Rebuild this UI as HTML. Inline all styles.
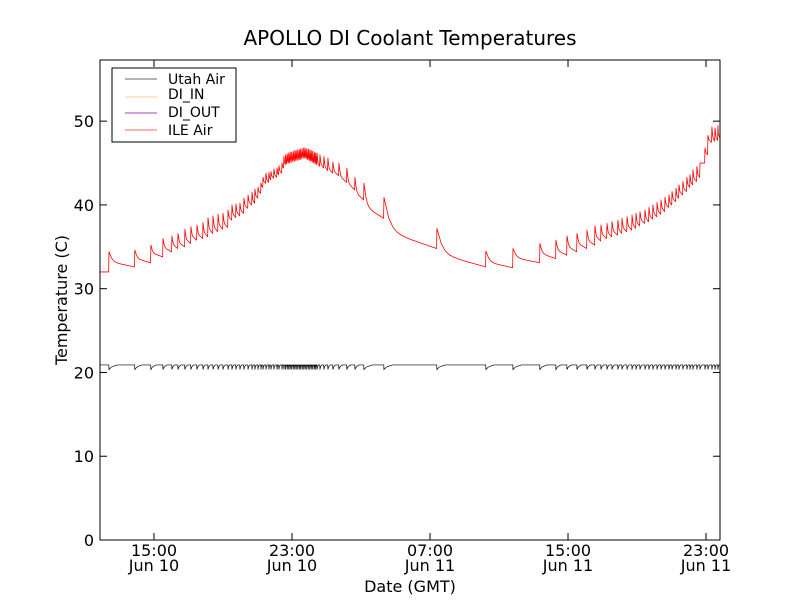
<!DOCTYPE html>
<html><head><meta charset="utf-8">
<style>
html,body{margin:0;padding:0;background:#fff;}
svg{display:block;font-family:"DejaVu Sans","Liberation Sans",sans-serif;}
</style></head>
<body>
<svg id="chart" width="800" height="600" viewBox="0 0 800 600">
<rect x="0" y="0" width="800" height="600" fill="#fff"/>
<text x="410" y="45" text-anchor="middle" font-size="20">APOLLO DI Coolant Temperatures</text>
<g id="plot"></g>
<g id="axes"></g>
<text x="410" y="592" text-anchor="middle" font-size="16">Date (GMT)</text>
<text x="0" y="0" transform="translate(67,300) rotate(-90)" text-anchor="middle" font-size="16">Temperature (C)</text>
<g>
<rect x="112" y="68" width="124" height="74" fill="#fff" stroke="#000" stroke-width="1"/>
<g><line x1="125" y1="79" x2="157" y2="79" stroke="#666" stroke-width="1"/><text x="168" y="84" font-size="14">Utah Air</text></g>
<g><line x1="125" y1="97" x2="157" y2="97" stroke="#fc8" stroke-width="1"/><text x="168" y="99" font-size="14">DI_IN</text></g>
<g><line x1="125" y1="113" x2="157" y2="113" stroke="#a040b0" stroke-width="1"/><text x="168" y="117" font-size="14">DI_OUT</text></g>
<g><line x1="125" y1="130" x2="157" y2="130" stroke="#f66" stroke-width="1"/><text x="168" y="135" font-size="14">ILE Air</text></g>
</g>
</svg>
<script>
// ---- data (hours since Jun 10 00:00 GMT, temperatures in C) ----
const spikeHours = [12.39,13.89,14.82,15.52,16.04,16.39,16.79,17.14,17.49,17.84,18.13,18.42,18.71,19.00,19.29,19.52,19.75,19.98,20.21,20.45,20.68,20.85,21.03,21.20,21.32,21.49,21.66,21.78,21.95,22.13,22.24,22.42,22.53,
22.63,22.72,22.81,22.89,22.98,23.07,23.16,23.24,23.33,23.42,23.50,23.59,23.68,23.76,23.85,23.94,24.03,24.11,24.20,24.29,24.37,
24.45,24.62,24.85,25.08,25.37,25.72,26.18,26.65,27.17,28.33,31.40,34.24,35.81,37.37,38.30,38.94,39.52,40.10,40.56,40.91,41.26,41.55,41.89,42.13,42.42,42.71,42.94,43.17,43.46,43.69,43.92,44.16,44.39,44.62,44.85,45.03,45.26,45.43,45.66,45.89,46.07,46.24,46.47,46.65,46.94,47.11,47.34,47.52,47.69];
const ileTroughs = [32.0,32.6,33.1,33.8,34.4,34.8,35.0,35.4,35.8,36.0,36.2,36.6,36.8,37.1,37.3,38.2,38.5,38.7,39.0,39.6,40.0,40.2,40.8,41.4,42.1,42.6,42.7,43.0,43.2,43.3,43.6,43.8,44.4,
44.8,44.9,45.0,45.0,45.1,45.2,45.2,45.3,45.3,45.4,45.4,45.5,45.6,45.6,45.5,45.4,45.3,45.2,45.1,45.0,44.9,
44.8,44.6,44.4,44.1,43.8,43.5,42.7,41.8,40.6,38.4,34.8,32.6,32.5,33.1,33.6,34.0,34.4,34.8,35.2,35.7,36.0,36.2,36.4,36.6,36.8,37.0,37.2,37.5,37.8,38.0,38.3,38.6,38.9,39.2,39.7,40.0,40.4,40.8,41.2,41.6,42.1,42.4,42.8,43.3,45.0,46.0,47.5,47.6,47.7];
const ilePeaks = [34.4,34.6,35.2,36.0,36.3,36.6,37.1,37.4,37.6,37.9,38.5,38.7,38.9,39.0,39.4,40.0,40.1,40.2,40.8,41.2,41.5,41.9,42.1,42.6,43.3,43.8,43.9,44.0,44.3,44.4,44.7,45.0,45.8,
46.0,46.1,46.2,46.3,46.3,46.4,46.5,46.5,46.6,46.6,46.7,46.7,46.8,46.8,46.7,46.7,46.6,46.5,46.4,46.3,46.2,
46.2,46.0,45.8,45.6,45.1,45.0,44.4,43.3,42.6,40.9,37.2,34.5,34.8,35.4,35.8,36.3,36.6,37.0,37.5,37.6,37.8,38.0,38.2,38.4,38.6,38.8,39.0,39.2,39.4,39.7,40.0,40.3,40.6,40.9,41.2,41.6,42.0,42.4,42.8,43.3,43.6,44.2,44.6,45.0,46.8,48.3,49.3,49.2,49.5];
const ileStart = [11.87, 32.0];
const ileEnd = [47.81, 48.0];
const utahBase = 20.9;
const utahDip = 20.35;
const xTickHours = [15, 23, 31, 39, 47];
const xTickLabels = [["15:00","Jun 10"],["23:00","Jun 10"],["07:00","Jun 11"],["15:00","Jun 11"],["23:00","Jun 11"]];
const yTicks = [0,10,20,30,40,50];

// ---- axes ----
const L=100,R=720,T=60,B=540;
const xMin=11.87,xMax=47.81,yMin=0,yMax=57.3;
const xs=h=>L+(h-xMin)/(xMax-xMin)*(R-L);
const ys=v=>B-(v-yMin)/(yMax-yMin)*(B-T);
const NS="http://www.w3.org/2000/svg";
const plot=document.getElementById('plot'), axes=document.getElementById('axes');
function mk(tag,attrs,parent){const e=document.createElementNS(NS,tag);for(const k in attrs)e.setAttribute(k,attrs[k]);parent.appendChild(e);return e;}

// ILE Air path
let pts=[[ileStart[0],ileStart[1]]];
let prevPeakH=null,prevPeak=null;
for(let i=0;i<spikeHours.length;i++){
  const h=spikeHours[i], tr=ileTroughs[i];
  if(prevPeakH===null){pts.push([h-0.02,tr]);}
  else{
    const d=h-prevPeakH;
    for(let s=1;s<=12;s++){const f=s/12;const v=tr+(prevPeak-tr)*(0.35*(1-f)+0.65*Math.exp(-10*f));pts.push([prevPeakH+0.02+f*(d-0.04),v]);}
  }
  pts.push([h,ilePeaks[i]]);
  prevPeakH=h;prevPeak=ilePeaks[i];
}
{const d=ileEnd[0]-prevPeakH,tr=ileEnd[1];for(let s=1;s<=6;s++){const f=s/6;pts.push([prevPeakH+f*d,tr+(prevPeak-tr)*(0.35*(1-f)+0.65*Math.exp(-10*f))]);}}
const ileLine=mk('polyline',{points:pts.map(p=>xs(p[0]).toFixed(2)+','+ys(p[1]).toFixed(2)).join(' '),fill:'none',stroke:'#ff0000','stroke-width':0.8,'stroke-linejoin':'round'},plot);



// Utah Air path
let up=[[xMin,utahBase]];
for(let i=0;i<spikeHours.length;i++){
  const h=spikeHours[i];
  const nxt=i+1<spikeHours.length?spikeHours[i+1]:xMax;
  const rec=Math.min(0.5,(nxt-h)*0.45);
  up.push([h-0.01,utahBase]);up.push([h,utahDip]);
  for(let s=1;s<=4;s++){const f=s/4;up.push([h+f*rec,utahDip+(utahBase-utahDip)*Math.sqrt(f)]);}
}
up.push([xMax,utahBase]);
const utahLine=mk('polyline',{points:up.map(p=>xs(p[0]).toFixed(2)+','+ys(p[1]).toFixed(2)).join(' '),fill:'none',stroke:'#000','stroke-width':0.7},plot);



// frame
const frame=mk('rect',{x:L,y:T,width:R-L,height:B-T,fill:'none',stroke:'#000','stroke-width':1},axes);



yTicks.forEach(v=>{
  const y=ys(v);
  mk('line',{x1:L,y1:y,x2:L+7,y2:y,stroke:'#000'},axes);
  mk('line',{x1:R,y1:y,x2:R-7,y2:y,stroke:'#000'},axes);
  const t=mk('text',{x:94,y:y+6,'text-anchor':'end','font-size':16},axes);
  t.textContent=v;
  
  
});
xTickHours.forEach((h,i)=>{
  const x=xs(h);
  mk('line',{x1:x,y1:B,x2:x,y2:B-7,stroke:'#000'},axes);
  mk('line',{x1:x,y1:T,x2:x,y2:T+7,stroke:'#000'},axes);
  const t1=mk('text',{x:x,y:556,'text-anchor':'middle','font-size':16},axes);
  t1.textContent=xTickLabels[i][0];
  
  
  const t2=mk('text',{x:x,y:571,'text-anchor':'middle','font-size':16},axes);
  t2.textContent=xTickLabels[i][1];
  
  
});
</script>
</body></html>
